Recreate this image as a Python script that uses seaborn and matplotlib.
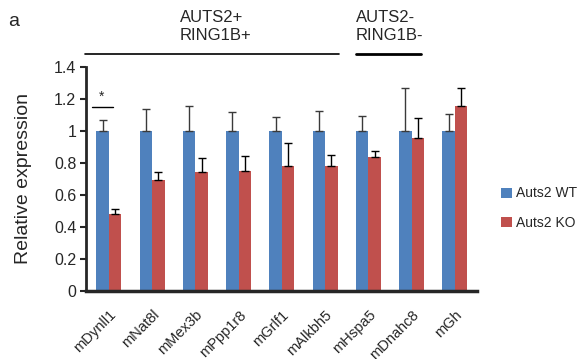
import numpy as np
import pandas as pd
import matplotlib
matplotlib.use("Agg")
import matplotlib.pyplot as plt
import seaborn as sns

genes = ["mDynll1", "mNat8l", "mMex3b", "mPpp1r8", "mGrlf1",
         "mAlkbh5", "mHspa5", "mDnahc8", "mGh"]
wt_mean = [1.0, 1.0, 1.0, 1.0, 1.0, 1.0, 1.0, 1.0, 1.0]
wt_err = [0.067, 0.138, 0.159, 0.117, 0.088, 0.122, 0.094, 0.266, 0.107]
ko_mean = [0.483, 0.692, 0.743, 0.753, 0.783, 0.783, 0.837, 0.954, 1.159]
ko_err = [0.032, 0.051, 0.087, 0.088, 0.144, 0.064, 0.036, 0.126, 0.107]
groups = ["Auts2 WT", "Auts2 KO"]
colors = ["#4F81BD", "#C0504D"]

df = pd.DataFrame({
    "gene": genes * 2,
    "group": [groups[0]] * len(genes) + [groups[1]] * len(genes),
    "value": wt_mean + ko_mean,
})

sns.set_style("ticks")
plt.rcParams["font.family"] = ["Liberation Sans", "DejaVu Sans"]

fig = plt.figure(figsize=(5.8, 3.59), dpi=100)
ax = fig.add_axes([0.1483, 0.1894, 0.674, 0.624])

sns.barplot(data=df, x="gene", y="value", hue="group", palette=colors,
            width=0.58, saturation=1, linewidth=0, errorbar=None, ax=ax,
            legend=True)

# one-sided error bars
for cont, err, ec in zip(ax.containers, [wt_err, ko_err], ["#3a3a3a", "black"]):
    xs = [p.get_x() + p.get_width() / 2 for p in cont.patches]
    hs = [p.get_height() for p in cont.patches]
    ax.errorbar(xs, hs, yerr=[np.zeros(len(err)), err], fmt="none",
                ecolor=ec, elinewidth=1.0, capsize=3, capthick=1.0)

ax.set_ylim(0, 1.4)
ax.set_yticks(np.arange(0, 1.41, 0.2))
ax.set_yticklabels(["0", "0.2", "0.4", "0.6", "0.8", "1", "1.2", "1.4"], fontsize=11.5)
ax.set_xlim(-0.53, 8.51)
ax.set_xlabel("")
ax.set_ylabel("Relative expression", fontsize=14, labelpad=16)
plt.setp(ax.get_xticklabels(), rotation=45, ha="right", rotation_mode="anchor",
         fontsize=10.5)
ax.tick_params(axis="x", length=0, pad=12)
ax.tick_params(axis="y", length=4, width=1.5, direction="out", pad=3)
sns.despine(ax=ax)
ax.spines["left"].set_linewidth(2)
ax.spines["bottom"].set_linewidth(2.5)

# significance marker
ax.plot([-0.39, 0.09], [1.15, 1.15], color="black", lw=1)
ax.text(-0.18, 1.17, "*", ha="center", va="bottom", fontsize=10)

# group annotations
ax.plot([-0.555, 5.32], [1.48, 1.48], color="black", lw=1.2, clip_on=False)
ax.plot([5.71, 7.21], [1.48, 1.48], color="black", lw=2, clip_on=False)
ax.text(1.64, 1.55, "AUTS2+\nRING1B+", ha="left", va="bottom", fontsize=12,
        linespacing=1.25)
ax.text(5.71, 1.55, "AUTS2-\nRING1B-", ha="left", va="bottom", fontsize=12,
        linespacing=1.25)

fig.text(0.014, 0.94, "a", fontsize=14, va="center")

ax.legend(loc="center left", bbox_to_anchor=(1.062, 0.37), frameon=False,
          fontsize=10, handlelength=0.75, handleheight=0.75, handletextpad=0.3,
          labelspacing=1.1, borderpad=0, borderaxespad=0)

fig.savefig("out.png", dpi=100)
